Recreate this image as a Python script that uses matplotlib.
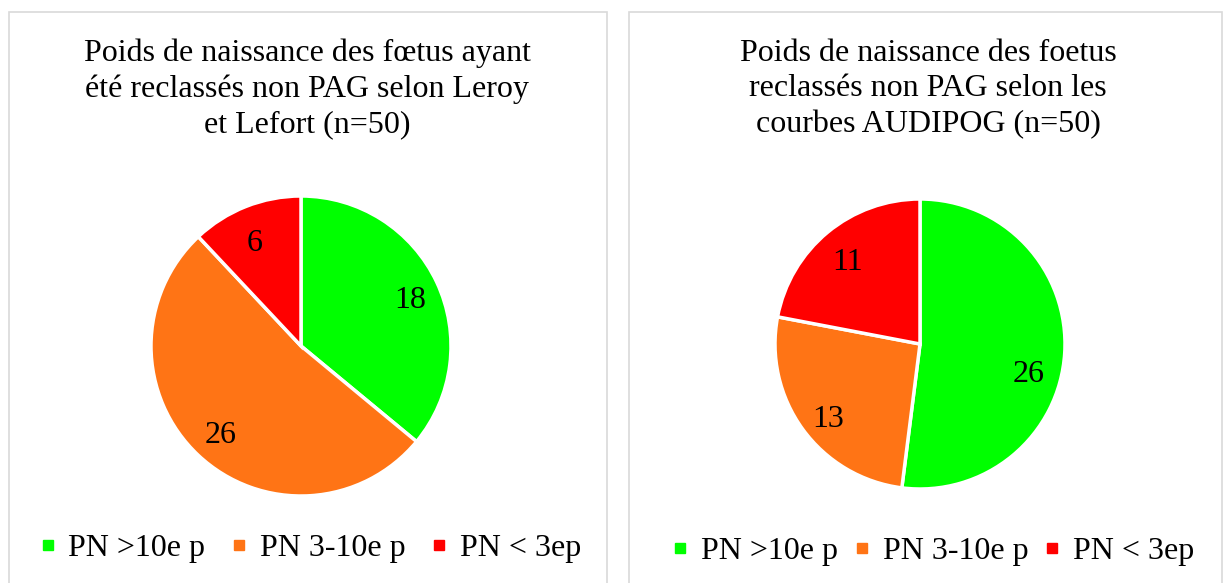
import matplotlib.pyplot as plt
from matplotlib.patches import Rectangle
from matplotlib.lines import Line2D

plt.rcParams['font.family'] = ['Liberation Serif', 'DejaVu Serif']

# data
categories = ['PN >10e p', 'PN 3-10e p', 'PN < 3ep']
leroy_values = [18, 26, 6]
audipog_values = [26, 13, 11]
colors = ['#00FF00', '#FF7415', '#FF0000']

title_left = 'Poids de naissance des fœtus ayant\nété reclassés non PAG selon Leroy\net Lefort (n=50)'
title_right = 'Poids de naissance des foetus\nreclassés non PAG selon les\ncourbes AUDIPOG (n=50)'

W, H = 1230, 583
fig = plt.figure(figsize=(W / 100, H / 100), dpi=100)
fs = 23

# panel borders
for x0, x1 in [(9, 607), (629, 1222)]:
    fig.patches.append(Rectangle((x0 / W, -0.02), (x1 - x0) / W, 1 - 12 / H + 0.02,
                                 transform=fig.transFigure, fill=False,
                                 edgecolor='#D9D9D9', linewidth=1.2))


def draw_pie(cx, cy, r, values, title, tx, legx, legy, colspace, shifts):
    ax = fig.add_axes([(cx - r) / W, 1 - (cy + r) / H, 2 * r / W, 2 * r / H])
    total = sum(values)
    _, _, autotexts = ax.pie(values, colors=colors, startangle=90, counterclock=False,
                             autopct=lambda p: '%d' % round(p * total / 100),
                             pctdistance=0.78,
                             wedgeprops=dict(edgecolor='white', linewidth=2.5),
                             textprops=dict(fontsize=fs, color='black'))
    # small nudges to follow the original label placement
    for t, (dx, dy) in zip(autotexts, shifts):
        x, y = t.get_position()
        t.set_position((x + dx, y + dy))
    ax.set_xlim(-1, 1)
    ax.set_ylim(-1, 1)
    ax.set_aspect('equal')
    ax.axis('off')
    fig.text(tx / W, 1 - 89 / H, title, ha='center', va='center',
             fontsize=fs, linespacing=1.3)
    handles = [Line2D([], [], marker='s', linestyle='none', markersize=7.5,
                      markerfacecolor=c, markeredgecolor=c) for c in colors]
    fig.legend(handles, categories, loc='center', ncol=3,
               bbox_to_anchor=(legx / W, 1 - legy / H), frameon=False,
               fontsize=fs, handlelength=0.4, handletextpad=0.45,
               columnspacing=colspace, borderpad=0)


draw_pie(301, 346, 150, leroy_values, title_left, 307, 311, 548, 0.85,
         [(0.02, -0.03), (0.0, -0.03), (-0.02, -0.04)])
draw_pie(920, 344, 145, audipog_values, title_right, 928, 934, 551, 0.55,
         [(-0.03, -0.16), (0.0, -0.06), (0.0, -0.04)])

fig.savefig('out.png', dpi=100, facecolor='white')
